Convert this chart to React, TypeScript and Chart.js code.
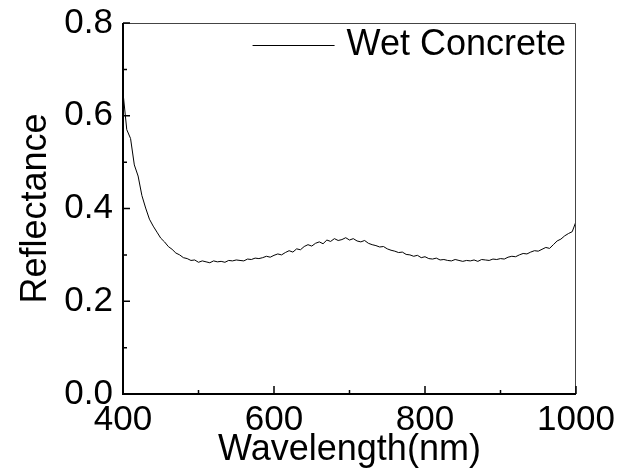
import React, { useEffect, useRef } from 'react';
import { Chart, registerables } from 'chart.js';

Chart.register(...registerables);

const seriesLabel = 'Wet Concrete';

const wavelengths = [
  400, 405, 410, 415, 420, 425, 430, 435, 440, 445,
  450, 455, 460, 465, 470, 475, 480, 485, 490, 495,
  500, 505, 510, 515, 520, 525, 530, 535, 540, 545,
  550, 555, 560, 565, 570, 575, 580, 585, 590, 595,
  600, 605, 610, 615, 620, 625, 630, 635, 640, 645,
  650, 655, 660, 665, 670, 675, 680, 685, 690, 695,
  700, 705, 710, 715, 720, 725, 730, 735, 740, 745,
  750, 755, 760, 765, 770, 775, 780, 785, 790, 795,
  800, 805, 810, 815, 820, 825, 830, 835, 840, 845,
  850, 855, 860, 865, 870, 875, 880, 885, 890, 895,
  900, 905, 910, 915, 920, 925, 930, 935, 940, 945,
  950, 955, 960, 965, 970, 975, 980, 985, 990, 995,
  1000,
];

const reflectance = [
  0.650, 0.570, 0.551, 0.494, 0.470, 0.428, 0.401, 0.377, 0.362, 0.349,
  0.336, 0.328, 0.318, 0.312, 0.304, 0.300, 0.294, 0.292, 0.288, 0.289,
  0.284, 0.287, 0.285, 0.283, 0.287, 0.285, 0.286, 0.284, 0.288, 0.287,
  0.289, 0.288, 0.287, 0.291, 0.290, 0.293, 0.292, 0.294, 0.297, 0.295,
  0.299, 0.302, 0.300, 0.305, 0.309, 0.306, 0.313, 0.311, 0.318, 0.322,
  0.319, 0.325, 0.328, 0.324, 0.332, 0.329, 0.335, 0.331, 0.333, 0.337,
  0.332, 0.335, 0.330, 0.328, 0.331, 0.325, 0.322, 0.320, 0.317, 0.318,
  0.313, 0.310, 0.308, 0.305, 0.306, 0.301, 0.300, 0.297, 0.299, 0.294,
  0.296, 0.292, 0.291, 0.293, 0.289, 0.290, 0.288, 0.287, 0.290, 0.288,
  0.286, 0.288, 0.287, 0.289, 0.286, 0.290, 0.289, 0.288, 0.291, 0.290,
  0.292, 0.291, 0.295, 0.297, 0.296, 0.300, 0.303, 0.302, 0.306, 0.309,
  0.308, 0.312, 0.316, 0.314, 0.322, 0.330, 0.334, 0.341, 0.346, 0.350,
  0.372,
];

const xMajorTicks = [400, 600, 800, 1000];
const xMinorTicks = [500, 700, 900];
const yMajorTicks = [0, 0.2, 0.4, 0.6, 0.8];
const yMinorTicks = [0.1, 0.3, 0.5, 0.7];

const FONT = '"Liberation Sans", Arial, Helvetica, sans-serif';

const framePlugin = {
  id: 'frameTicks',
  afterDraw(chart: any) {
    const { ctx, chartArea: a, scales } = chart;
    const x = scales.x;
    const y = scales.y;
    ctx.save();
    ctx.strokeStyle = '#444';
    ctx.lineWidth = 1;
    ctx.beginPath();
    ctx.moveTo(a.left, a.top + 0.5);
    ctx.lineTo(a.right - 0.5, a.top + 0.5);
    ctx.lineTo(a.right - 0.5, a.bottom);
    ctx.stroke();
    ctx.strokeStyle = '#000';
    ctx.lineWidth = 2;
    ctx.beginPath();
    ctx.moveTo(a.left, a.top);
    ctx.lineTo(a.left, a.bottom);
    ctx.lineTo(a.right, a.bottom);
    ctx.stroke();
    ctx.lineWidth = 1.5;
    ctx.beginPath();
    xMajorTicks.forEach((v) => {
      const px = x.getPixelForValue(v);
      ctx.moveTo(px, a.bottom);
      ctx.lineTo(px, a.bottom - 8);
    });
    xMinorTicks.forEach((v) => {
      const px = x.getPixelForValue(v);
      ctx.moveTo(px, a.bottom);
      ctx.lineTo(px, a.bottom - 4);
    });
    yMajorTicks.forEach((v) => {
      const py = y.getPixelForValue(v);
      ctx.moveTo(a.left, py);
      ctx.lineTo(a.left + 7, py);
    });
    yMinorTicks.forEach((v) => {
      const py = y.getPixelForValue(v);
      ctx.moveTo(a.left, py);
      ctx.lineTo(a.left + 4, py);
    });
    ctx.stroke();

    const label = chart.data.datasets[0].label;
    ctx.font = `36px ${FONT}`;
    ctx.fillStyle = '#000';
    ctx.textBaseline = 'middle';
    ctx.textAlign = 'left';
    const w = ctx.measureText(label).width;
    const textRight = a.right - 10;
    const textLeft = textRight - w;
    const ly = a.top + 22;
    ctx.fillText(label, textLeft, ly);
    ctx.strokeStyle = '#000';
    ctx.lineWidth = 1;
    ctx.beginPath();
    ctx.moveTo(textLeft - 94, ly + 0.5);
    ctx.lineTo(textLeft - 12, ly + 0.5);
    ctx.stroke();
    ctx.restore();
  },
};

export default function App() {
  const ref = useRef<HTMLCanvasElement | null>(null);

  useEffect(() => {
    if (!ref.current) return;
    Chart.defaults.color = '#000';
    const chart = new Chart(ref.current, {
      type: 'line',
      data: {
        labels: wavelengths,
        datasets: [
          {
            label: seriesLabel,
            data: wavelengths.map((w, i) => ({ x: w, y: reflectance[i] })),
            borderColor: '#000',
            borderWidth: 1,
            pointRadius: 0,
            tension: 0,
            fill: false,
          },
        ],
      },
      options: {
        animation: false,
        responsive: false,
        devicePixelRatio: 1,
        layout: { padding: { top: 23, right: 50, left: 0, bottom: 0 } },
        plugins: {
          legend: { display: false },
          tooltip: { enabled: false },
        },
        scales: {
          x: {
            type: 'linear',
            min: 400,
            max: 1000,
            grid: { display: false, drawTicks: false },
            border: { display: false },
            ticks: {
              stepSize: 200,
              padding: 5,
              maxRotation: 0,
              color: '#000',
              font: { family: FONT, size: 35 },
              callback: (v: any) => String(v),
            },
            title: {
              display: true,
              text: 'Wavelength(nm)',
              color: '#000',
              font: { family: FONT, size: 36 },
              padding: { top: 0, bottom: 0 },
            },
            afterFit(scale: any) {
              scale.height = 78;
              scale.paddingLeft = 0;
              scale.paddingRight = 0;
            },
          },
          y: {
            min: 0,
            max: 0.8,
            grid: { display: false, drawTicks: false },
            border: { display: false },
            ticks: {
              stepSize: 0.2,
              padding: 10,
              color: '#000',
              font: { family: FONT, size: 35 },
              callback: (v: any) => Number(v).toFixed(1),
            },
            title: {
              display: true,
              text: 'Reflectance',
              color: '#000',
              font: { family: FONT, size: 36 },
              padding: { top: 14, bottom: 0 },
            },
            afterFit(scale: any) {
              scale.width = 123;
              scale.paddingTop = 0;
              scale.paddingBottom = 0;
            },
          },
        },
      },
      plugins: [framePlugin],
    });
    return () => chart.destroy();
  }, []);

  return (
    <div style={{ position: 'absolute', left: 0, top: 0, width: 626, height: 472, background: '#fff' }}>
      <canvas ref={ref} width={626} height={472} />
    </div>
  );
}
